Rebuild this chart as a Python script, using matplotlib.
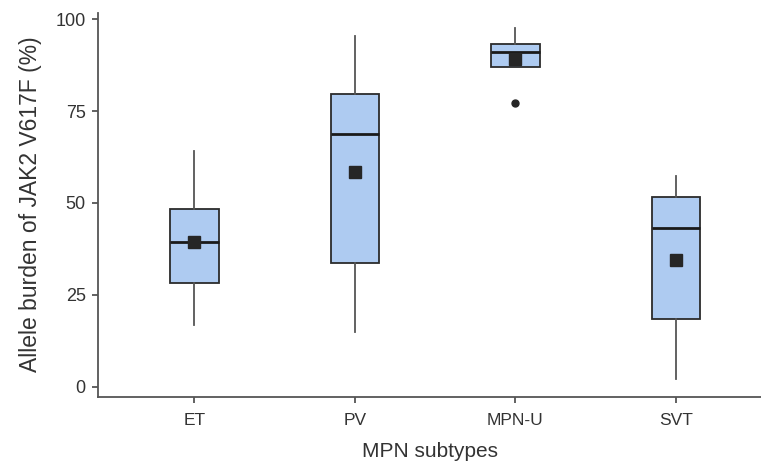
import matplotlib
matplotlib.use('Agg')
import matplotlib.pyplot as plt

# values
subtypes = ['ET', 'PV', 'MPN-U', 'SVT']
whisker_low = [16.8, 15.0, 87.0, 2.1]
q1 = [28.2, 33.6, 87.0, 18.3]
median = [39.3, 68.7, 91.0, 43.1]
q3 = [48.4, 79.7, 93.2, 51.6]
whisker_high = [64.0, 95.3, 97.6, 57.2]
mean = [39.5, 58.4, 89.1, 34.5]
outliers = [[], [], [77.2], []]

plt.rcParams['font.family'] = ['Liberation Sans', 'DejaVu Sans']

stats = []
for i in range(len(subtypes)):
    stats.append({'label': subtypes[i], 'whislo': whisker_low[i], 'q1': q1[i],
                  'med': median[i], 'q3': q3[i], 'whishi': whisker_high[i],
                  'mean': mean[i], 'fliers': outliers[i]})

fig = plt.figure(figsize=(7.61, 4.66), dpi=100)
ax = fig.add_axes([0.129, 0.149, 0.871, 0.824])

ax.bxp(stats, positions=range(1, len(subtypes) + 1), widths=0.3,
       patch_artist=True, showmeans=True, showcaps=False,
       boxprops=dict(facecolor='#aecbf1', edgecolor='#2b2b2b', linewidth=1.3),
       medianprops=dict(color='#1a1a1a', linewidth=2.0),
       whiskerprops=dict(color='#555555', linewidth=1.3),
       meanprops=dict(marker='s', markerfacecolor='#262626',
                      markeredgecolor='#262626', markersize=9),
       flierprops=dict(marker='o', markerfacecolor='#262626',
                       markeredgecolor='#262626', markersize=5))

ax.set_xlim(0.4, 4.53)
ax.set_ylim(-2.7, 101.8)
ax.set_yticks([0, 25, 50, 75, 100])
ax.spines['top'].set_visible(False)
ax.spines['right'].set_visible(False)
for s in ['left', 'bottom']:
    ax.spines[s].set_color('#555555')
    ax.spines[s].set_linewidth(1.3)
ax.tick_params(colors='#555555', labelcolor='#333333', length=4, width=1.3)
ax.tick_params(axis='x', labelsize=12.5, pad=8)
ax.tick_params(axis='y', labelsize=13, pad=5)
ax.set_ylabel('Allele burden of JAK2 V617F (%)', fontsize=16.5, color='#333333',
              labelpad=10)
ax.set_xlabel('MPN subtypes', fontsize=15, color='#333333', labelpad=10)

fig.savefig('out.png', dpi=100)
